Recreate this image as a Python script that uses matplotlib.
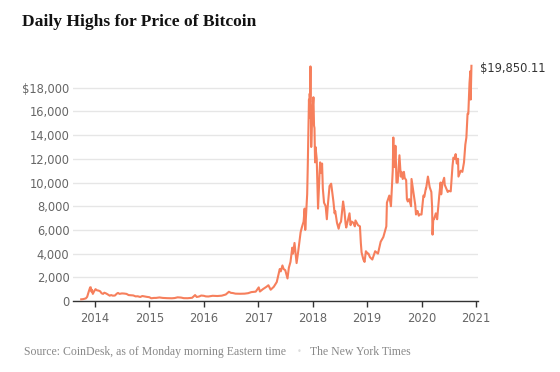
import matplotlib
matplotlib.use("Agg")
import matplotlib.pyplot as plt
import pandas as pd

dates = [
    "2013-10-01", "2013-10-15", "2013-11-01", "2013-11-10", "2013-11-18", "2013-11-22", "2013-11-30",
    "2013-12-04", "2013-12-08", "2013-12-12", "2013-12-18", "2013-12-26",
    "2014-01-05", "2014-01-15", "2014-01-25", "2014-02-05", "2014-02-15", "2014-02-25", "2014-03-05",
    "2014-03-15", "2014-03-25", "2014-04-10", "2014-04-20", "2014-05-01", "2014-05-15", "2014-05-28",
    "2014-06-05", "2014-06-15", "2014-07-01", "2014-07-15", "2014-08-01", "2014-08-15", "2014-09-01",
    "2014-09-15", "2014-10-01", "2014-10-15", "2014-11-01", "2014-11-15", "2014-12-01", "2014-12-15",
    "2015-01-01", "2015-01-14", "2015-02-01", "2015-02-15", "2015-03-10", "2015-04-01", "2015-05-01",
    "2015-06-01", "2015-06-20", "2015-07-10", "2015-08-01", "2015-08-20", "2015-09-15", "2015-10-15",
    "2015-11-04", "2015-11-15", "2015-12-01", "2015-12-15",
    "2016-01-01", "2016-01-15", "2016-02-01", "2016-03-01", "2016-04-01", "2016-05-01", "2016-05-28",
    "2016-06-18", "2016-07-01", "2016-07-15", "2016-08-01", "2016-09-01", "2016-10-01", "2016-10-25",
    "2016-11-15", "2016-12-15",
    "2017-01-04", "2017-01-12", "2017-02-01", "2017-02-25", "2017-03-10", "2017-03-25", "2017-04-15",
    "2017-05-05", "2017-05-25", "2017-06-01", "2017-06-12", "2017-06-20", "2017-07-01", "2017-07-16",
    "2017-07-25", "2017-08-05", "2017-08-17", "2017-08-22", "2017-09-01", "2017-09-15", "2017-09-25",
    "2017-10-12", "2017-10-20", "2017-11-01", "2017-11-08", "2017-11-12", "2017-11-25", "2017-11-29",
    "2017-12-07", "2017-12-10", "2017-12-12", "2017-12-14", "2017-12-17", "2017-12-22", "2017-12-28",
    "2018-01-06", "2018-01-10", "2018-01-13", "2018-01-17", "2018-01-20", "2018-01-28", "2018-02-02",
    "2018-02-06", "2018-02-10", "2018-02-16", "2018-02-20", "2018-02-28", "2018-03-05", "2018-03-10",
    "2018-03-18", "2018-03-29", "2018-04-06", "2018-04-12", "2018-04-24", "2018-05-05", "2018-05-20",
    "2018-05-28", "2018-06-01", "2018-06-13", "2018-06-24", "2018-07-01", "2018-07-10", "2018-07-24",
    "2018-08-01", "2018-08-10", "2018-08-14", "2018-08-25", "2018-09-01", "2018-09-05", "2018-09-12",
    "2018-09-20", "2018-10-01", "2018-10-11", "2018-10-15", "2018-11-01", "2018-11-14", "2018-11-20",
    "2018-11-25", "2018-12-07", "2018-12-15", "2018-12-24",
    "2019-01-05", "2019-01-10", "2019-01-20", "2019-02-05", "2019-02-24", "2019-03-15", "2019-04-02",
    "2019-04-20", "2019-05-10", "2019-05-14", "2019-05-30", "2019-06-10", "2019-06-22", "2019-06-26",
    "2019-06-28", "2019-07-01", "2019-07-05", "2019-07-10", "2019-07-14", "2019-07-17", "2019-07-25",
    "2019-08-06", "2019-08-15", "2019-08-20", "2019-08-28", "2019-09-05", "2019-09-10", "2019-09-20",
    "2019-09-25", "2019-10-01", "2019-10-10", "2019-10-23", "2019-10-26", "2019-11-05", "2019-11-20",
    "2019-11-25", "2019-12-01", "2019-12-05", "2019-12-14", "2019-12-18",
    "2020-01-01", "2020-01-14", "2020-01-20", "2020-01-30", "2020-02-01", "2020-02-13", "2020-02-25",
    "2020-03-07", "2020-03-12", "2020-03-15", "2020-03-20", "2020-03-25", "2020-04-06", "2020-04-15",
    "2020-04-29", "2020-05-08", "2020-05-12", "2020-05-20", "2020-06-01", "2020-06-05", "2020-06-15",
    "2020-06-25", "2020-07-01", "2020-07-15", "2020-07-27", "2020-08-02", "2020-08-10", "2020-08-17",
    "2020-08-25", "2020-09-02", "2020-09-05", "2020-09-20", "2020-10-01", "2020-10-12", "2020-10-21",
    "2020-10-28", "2020-11-05", "2020-11-10", "2020-11-18", "2020-11-24", "2020-11-26", "2020-12-01",
]
highs = [
    140, 160, 220, 350, 700, 850, 1150,
    1160, 800, 950, 600, 800,
    1000, 900, 880, 820, 650, 600, 700,
    650, 580, 450, 500, 450, 460, 620,
    680, 600, 640, 630, 600, 500, 480,
    470, 390, 400, 340, 420, 380, 350,
    320, 230, 260, 260, 300, 260, 240,
    230, 250, 310, 290, 240, 235, 270,
    500, 340, 380, 460,
    440, 390, 380, 440, 420, 450, 550,
    780, 690, 670, 620, 610, 620, 660,
    750, 790,
    1150, 800, 1000, 1200, 1330, 950, 1200,
    1600, 2700, 2500, 3000, 2700, 2600, 1900,
    2800, 3300, 4500, 4000, 4900, 3200, 4100,
    5800, 6200, 6700, 7800, 6000, 9000, 11400,
    17000, 15500, 17500, 16800, 19800, 13000, 15500,
    17200, 14800, 14600, 11700, 13000, 12000, 9500,
    7800, 9000, 10800, 11700, 10800, 11600, 9500,
    8300, 8000, 6900, 8000, 9700, 9900, 8400,
    7400, 7600, 6600, 6100, 6500, 6700, 8400,
    7700, 6500, 6200, 6800, 7200, 7400, 6400,
    6700, 6600, 6300, 6800, 6400, 6300, 4900,
    4100, 3500, 3300, 4200,
    4000, 4000, 3700, 3500, 4200, 4000, 5000,
    5400, 6300, 8300, 8900, 8000, 11000, 13800,
    11500, 12000, 11300, 13100, 11500, 10000, 10000,
    12300, 10500, 10900, 10300, 10900, 10400, 10200,
    8600, 8400, 8600, 8000, 10300, 9400, 8100,
    7300, 7500, 7600, 7200, 7300,
    7300, 8900, 8800, 9500, 9500, 10500, 9600,
    9200, 7950, 5600, 6900, 6900, 7400, 6900,
    8900, 10000, 9000, 9900, 10400, 9800, 9500,
    9200, 9300, 9250, 11400, 12100, 12000, 12400,
    11600, 12000, 10500, 11000, 10900, 11700, 13200,
    13800, 15800, 15800, 18400, 19400, 17000, 19850.11,
]
y_ticks = [0, 2000, 4000, 6000, 8000, 10000, 12000, 14000, 16000, 18000]
year_ticks = [2014, 2015, 2016, 2017, 2018, 2019, 2020, 2021]

title = "Daily Highs for Price of Bitcoin"
source = "Source: CoinDesk, as of Monday morning Eastern time"
credit = "The New York Times"
last_label = "$19,850.11"

df = pd.DataFrame({"date": pd.to_datetime(dates), "high": highs}).sort_values("date")

fig = plt.figure(figsize=(5.6, 3.72), dpi=100)
ax = fig.add_axes([73/560, 71/372, (478-73)/560, 0.637])

ax.plot(df["date"], df["high"], color="#f67f5c", lw=1.5, solid_joinstyle="round", zorder=3)

ax.set_ylim(0, 20000)
ax.set_xlim(pd.Timestamp("2013-08-07"), pd.Timestamp("2021-01-14"))
ax.set_yticks(y_ticks)
ax.set_yticklabels([("$" if v == 18000 else "") + f"{v:,}" for v in y_ticks])
ax.set_xticks([pd.Timestamp(f"{yr}-01-01") for yr in year_ticks])
ax.set_xticklabels([str(yr) for yr in year_ticks])

ax.grid(axis="y", color="#e6e6e6", lw=1, zorder=0)
for s in ["top", "right", "left"]:
    ax.spines[s].set_visible(False)
ax.spines["bottom"].set_color("#333333")
ax.spines["bottom"].set_linewidth(1)
ax.tick_params(axis="y", length=0, pad=2.5, labelsize=8.3, labelcolor="#666666")
ax.tick_params(axis="x", length=4, width=1, color="#333333", pad=4, labelsize=8.3, labelcolor="#666666")

last = df.iloc[-1]
ax.annotate(last_label, xy=(last["date"], last["high"]), xytext=(6, -2), textcoords="offset points",
            ha="left", va="center", fontsize=8.3, color="#333333", annotation_clip=False)

fig.text(22/560, 1 - 22/372, title, fontsize=12.6, fontweight="bold", family="Liberation Serif",
         color="#121212", va="center", ha="left")
fig.text(24/560, 1 - 352/372, source, fontsize=8.5, family="Liberation Serif", color="#888888",
         va="center", ha="left")
fig.text(299/560, 1 - 352/372, "•", fontsize=6, color="#dddddd", va="center", ha="center")
fig.text(310/560, 1 - 352/372, credit, fontsize=8.5, family="Liberation Serif", color="#888888",
         va="center", ha="left")

fig.savefig("out.png", dpi=100, facecolor="white")
